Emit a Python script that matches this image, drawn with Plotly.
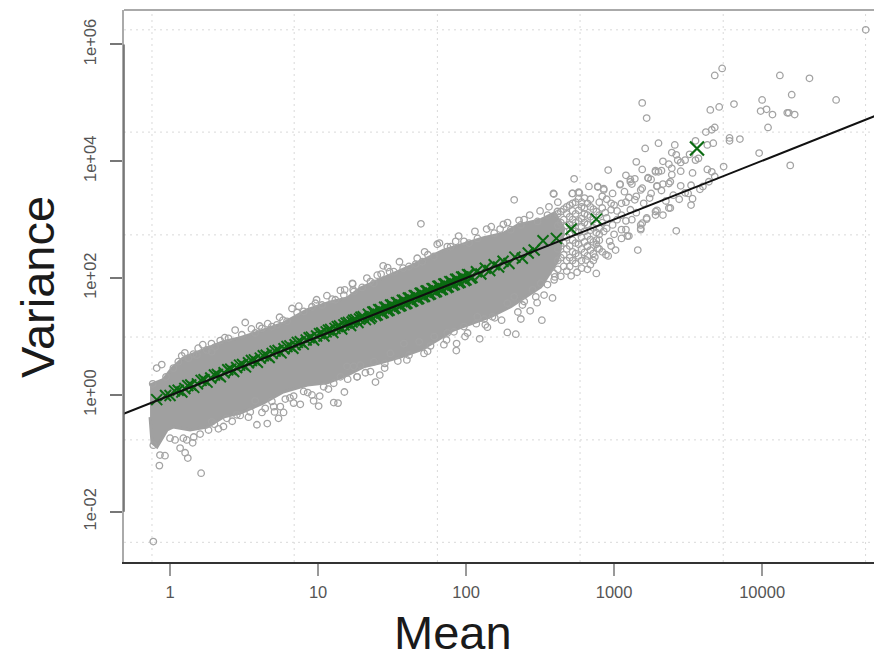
import plotly.graph_objects as go

# Dense body of the cloud: outline (log10 mean, log10 variance)
body_log_mean = [-0.135,-0.047,0.014,0.088,0.223,0.359,0.474,0.575,0.765,0.928,1.083,1.198,1.286,1.442,1.645,1.848,2.119,2.255,2.349,2.505,2.60,2.66,2.62,
                 2.505,2.39,2.302,2.167,2.051,1.916,1.808,1.693,1.557,1.422,1.307,1.198,1.063,0.928,0.765,0.63,0.474,0.359,0.25,0.135,0.02,-0.02,-0.088,-0.122,-0.135]
body_log_var = [0.17,0.26,0.46,0.63,0.77,0.91,0.98,1.06,1.23,1.46,1.59,1.66,1.83,2.00,2.23,2.48,2.69,2.77,2.91,3.00,3.12,2.85,2.30,
                1.85,1.66,1.51,1.34,1.23,1.11,0.94,0.77,0.65,0.55,0.48,0.34,0.21,0.17,0.05,-0.14,-0.31,-0.38,-0.55,-0.60,-0.55,-0.60,-0.89,-0.82,-0.38]

# Individually visible genes (log10 mean, log10 variance)
genes = [
(4.70,6.25),(3.73,5.59),(3.68,5.47),(4.12,5.47),(4.32,5.42),(4.20,5.14),(4.50,5.05),(4.00,5.05),(3.81,4.98),(3.71,4.93),
(3.65,4.88),(3.19,5.00),(3.22,4.74),(3.99,4.86),(4.03,4.89),(4.07,4.80),(4.17,4.83),(4.18,4.83),(4.22,4.80),(4.04,4.58),
(3.68,4.58),(3.66,4.54),(3.62,4.50),(3.78,4.40),(3.78,4.35),(3.85,4.38),(3.67,4.31),(3.63,4.28),(3.55,4.35),(3.30,4.31),
(3.41,4.28),(3.21,4.22),(3.98,4.14),(3.74,3.91),(4.19,3.93),(3.39,4.15),(3.42,4.11),(3.51,4.12),(3.57,4.05),(3.55,4.02),
(3.48,4.02),(3.43,4.02),(3.45,3.98),(3.15,3.99),(2.96,3.85),(3.19,3.86),(3.33,4.00),(3.37,3.95),(3.39,3.88),(3.28,3.84),
(3.30,3.82),(3.32,3.84),(3.45,3.83),(3.53,3.80),(3.63,3.86),(3.66,3.82),(3.68,3.74),(3.64,3.65),(3.08,3.76),(3.11,3.69),
(3.14,3.70),(3.23,3.72),(3.25,3.69),(3.39,3.77),(3.38,3.65),(3.29,3.58),(3.33,3.61),(3.45,3.58),(3.52,3.59),(3.60,3.57),
(3.58,3.52),(2.83,3.57),(2.89,3.56),(2.93,3.53),(3.04,3.61),(3.12,3.61),(3.19,3.54),(3.48,3.46),(3.53,3.36),(3.52,3.25),
(3.38,3.20),(3.29,3.16),(3.28,3.08),(3.33,3.08),(3.22,3.01),(3.19,2.94),(3.18,2.85),(3.42,2.81),(3.08,2.83),(3.10,2.72),
(2.73,3.70),(2.59,3.45),(2.76,3.47),(2.72,3.45),(2.62,3.30),(3.16,2.48),(3.01,2.48),(2.96,2.38),(2.87,2.36),(2.88,2.08),
(2.71,2.04),(2.60,2.02),(3.09,2.72),(3.05,2.83),(3.18,2.83),(3.22,3.03),(3.37,3.20),(2.80,3.37),(2.89,3.57),(2.93,3.51),
(2.92,3.40),(3.04,3.60),(2.99,3.45),(3.07,3.48),(3.11,3.65),(3.18,3.51),(3.23,3.71),(3.28,3.82),(3.29,3.57),(3.37,3.62),
(3.24,3.37),(3.14,3.34),(3.05,3.28),(2.98,3.17),(3.05,3.08),(3.11,3.17),(3.20,3.28),(2.95,3.03),(2.99,2.91),(2.93,2.80),
(2.97,2.63),(2.88,2.65),(2.89,2.51),(2.82,2.54),(2.81,2.31),(2.78,2.17),(2.84,2.23),(3.28,3.14),(3.18,2.91),
(-0.117,0.19),(-0.09,0.46),(-0.056,0.52),(-0.027,0.31),(0.079,0.67),(0.158,0.70),(0.221,0.86),(0.248,0.77),(0.339,0.93),(0.44,1.11),
(0.508,1.24),(0.605,1.18),(0.688,1.17),(0.763,1.28),(0.824,1.48),(0.858,1.41),(0.959,1.51),(0.982,1.57),(1.095,1.64),(1.151,1.79),
(1.234,1.90),(1.241,1.77),(0.587,-0.51),(0.657,-0.49),(0.733,-0.40),(0.767,-0.30),(0.706,-0.29),(0.835,-0.14),(0.88,-0.16),(0.97,-0.10),
(1.004,-0.19),(1.106,-0.13),(1.135,-0.14),(1.178,0.05),(1.011,-0.02),(0.835,-0.02),(0.779,-0.07),(0.643,-0.23),(0.621,-0.30),(0.474,-0.35),
(0.361,-0.54),(0.327,-0.58),(0.26,-0.60),(0.203,-0.67),(0.153,-0.82),(0.113,-0.77),(0.09,-0.74),(0.034,-0.77),(0.0,-0.74),(-0.034,-1.04),
(-0.068,-1.03),(-0.072,-1.21),(0.21,-1.34),(0.068,-0.91),(0.102,-0.99),(0.12,-1.08),(-0.113,-0.86),(-0.113,-2.51),
(1.695,2.93),(1.805,2.58),(1.742,2.40),(1.67,2.34),(1.66,2.24),(1.44,2.21),(1.426,2.07),(1.483,2.11),(1.575,2.17),(1.232,1.91),
(1.237,1.80),(1.377,1.91),(1.873,2.54),(1.93,2.63),(2.139,2.84),(2.23,2.84),(2.252,2.92),(2.325,3.34),(2.02,2.60),(2.358,2.99),
(2.392,3.00),(2.56,3.22),(2.617,3.14),(1.388,0.22),(1.264,0.31),(1.354,0.40),(1.417,0.34),(1.451,0.54),(1.539,0.58),(1.614,0.68),
(1.716,0.71),(1.76,0.84),(1.934,0.76),(1.936,0.88),(1.868,0.94),(1.918,1.08),(1.993,1.00),(2.092,0.96),(2.279,1.07),(2.336,1.04),
(2.144,1.16),(2.069,1.22),(2.122,1.30),(2.194,1.32),(2.37,1.30),(2.512,1.28),(2.433,1.44),(2.381,1.54),(2.471,1.68),(2.527,1.71),
(2.584,1.66),(2.595,1.97),(2.55,1.89),(2.593,3.44),(2.717,3.45),(2.765,3.46),(2.945,2.40),(2.64,2.03),
# edge of the cloud
(0.282,-0.46),(0.384,-0.40),(0.451,-0.34),(0.542,-0.29),(0.575,-0.10),(0.688,-0.11),(0.745,-0.20),(1.241,0.49),(1.151,0.31),(1.106,0.20),
(1.038,0.14),(0.959,0.0),(0.903,0.06),(1.264,0.31),(0.023,0.46),(0.056,0.57),(0.124,0.63),(0.181,0.68),(0.282,0.74),(0.305,0.82),
(0.395,0.97),(0.485,1.03),(0.575,1.06),(0.621,1.14),(0.722,1.20),(0.79,1.26),(0.903,1.43),(1.027,1.54),(1.174,1.71),(1.117,1.63),
(1.298,1.84),(1.354,1.94),(1.40,2.05),(1.512,2.11),(1.614,2.20),(1.704,2.28),(1.783,2.37),(1.896,2.54),(1.986,2.63),(2.077,2.68),
(2.19,2.77),(2.302,2.83),(2.37,2.91),(2.483,2.97),(2.55,3.08),(1.196,0.49),(1.286,0.51),(1.377,0.57),(1.489,0.71),(1.58,0.88),
(1.683,0.91),(1.785,1.00),(1.873,1.06),(1.985,1.17),(2.076,1.34),(2.178,1.34),(2.279,1.57),(2.325,1.68),(2.393,1.60),(2.449,1.80),
(2.505,1.91),(2.595,2.08),
(0.10,0.72),(0.19,0.80),(0.28,0.88),(0.37,0.98),(0.55,1.13),(0.66,1.22),(0.74,1.33),(0.87,1.52),(0.99,1.63),(1.06,1.70),
(1.18,1.80),(1.33,2.00),(1.47,2.18),(1.55,2.28),(1.72,2.45),(1.82,2.60),(1.95,2.72),(2.06,2.80),(2.17,2.88),(2.28,2.95),
(2.43,3.08),(2.50,3.15),(0.16,-0.72),(0.30,-0.50),(0.42,-0.45),(0.53,-0.38),(0.70,-0.20),(0.81,-0.05),(0.93,0.04),(1.07,0.10),
(1.20,0.27),(1.32,0.38),(1.45,0.46),(1.60,0.60),(1.74,0.75),(1.85,0.86),(2.01,1.06),(2.13,1.20),(2.24,1.28),(2.35,1.42),(2.48,1.58),
# loose tail past the dense body
(2.78,3.30),(2.84,3.35),(2.90,3.30),(2.95,3.35),(2.98,3.28),(2.92,3.20),(3.00,3.25),(3.02,3.15),(2.94,3.12),(3.08,3.30),
(3.10,3.38),(3.15,3.40),(3.02,3.00),(3.08,2.98),(2.92,2.95),(3.12,3.00),(2.95,2.85),(2.90,2.75),(3.00,2.75),(3.05,2.68),
(2.98,2.55),(2.92,2.45),(2.86,2.30),(2.82,2.15),(2.75,2.10),(2.68,2.12),(3.15,3.12),(3.25,3.45),(3.32,3.50),(3.40,3.42),
(3.35,3.32),(3.44,3.35),(3.50,3.45),
(2.62,3.10),(2.62,2.90),(2.62,2.70),(2.62,2.50),(2.62,2.30),(2.62,2.15),(2.66,3.18),(2.66,3.00),(2.66,2.80),(2.66,2.60),
(2.66,2.40),(2.66,2.20),(2.70,3.25),(2.70,3.05),(2.70,2.92),(2.70,2.75),(2.70,2.55),(2.70,2.35),(2.70,2.20),(2.74,3.30),
(2.74,3.10),(2.74,2.95),(2.74,2.80),(2.74,2.60),(2.74,2.42),(2.74,2.25),(2.78,3.22),(2.78,3.02),(2.78,2.88),(2.78,2.70),
(2.78,2.50),(2.78,2.30),(2.82,3.28),(2.82,3.08),(2.82,2.92),(2.82,2.72),(2.82,2.55),(2.82,2.38),(2.86,3.18),(2.86,3.00),
(2.86,2.86),(2.86,2.62),(2.86,2.42),(2.90,3.08),(2.90,2.85),(2.90,2.65),(2.90,2.50),
(2.64,3.14),(2.64,2.95),(2.64,2.75),(2.64,2.55),(2.64,2.35),(2.68,3.22),(2.68,3.10),(2.68,2.90),(2.68,2.70),(2.68,2.50),
(2.68,2.30),(2.72,3.28),(2.72,3.15),(2.72,3.00),(2.72,2.85),(2.72,2.65),(2.72,2.45),(2.72,2.30),(2.76,3.36),(2.76,3.16),
(2.76,2.98),(2.76,2.78),(2.76,2.58),(2.76,2.38),(2.80,3.20),(2.80,3.10),(2.80,2.95),(2.80,2.80),(2.80,2.62),(2.80,2.44),
(2.84,3.22),(2.84,3.05),(2.84,2.82),(2.84,2.66),(2.84,2.48),(2.88,3.14),(2.88,2.94),(2.88,2.78),(2.88,2.58),
]

# Binned means (green crosses), log10 mean and log10 variance
bin_log_mean = [-0.09,-0.03,0.03,0.08,0.12,0.16,0.21,0.25,0.30,0.34,0.39,0.43,0.47,0.51,0.55,0.59,0.63,0.67,0.71,0.75,0.79,0.83,0.86,0.90,0.94,0.97,1.01,1.04,1.07,1.10,
                1.13,1.16,1.19,1.22,1.24,1.27,1.29,1.32,1.34,1.36,1.38,1.40,1.42,1.44,1.46,1.48,1.50,1.52,1.54,1.56,1.58,1.60,1.62,1.64,1.66,1.68,1.70,1.72,1.74,1.76,
                1.78,1.80,1.82,1.84,1.86,1.88,1.90,1.92,1.94,1.96,1.98,2.00,2.02,2.04,2.07,2.10,2.13,2.16,2.19,2.22,2.25,2.29,2.33,2.38,2.42,2.46,2.52,2.61,2.71,2.88,
                1.35,1.37,1.39,1.41,1.43,1.45,1.47,1.49,1.51,1.53,1.55,1.57,1.59,1.61,1.63,1.65,1.67,1.69,1.71,1.73,1.75,1.77,1.79,1.81,1.83,1.85,1.87,1.89,1.91,1.93,1.95,1.97,1.99,2.01,2.03,
                0.0,0.055,0.10,0.14,0.185,0.23,0.275,0.32,0.365,0.41,0.45,0.49,0.53,0.57,0.61,0.65,0.69,0.73,0.77,0.81,0.845,0.88,0.92,0.955,0.99,1.025,1.055,1.085,1.115,1.145,1.175,1.205,1.23,1.255,1.28,1.305]
bin_log_var = [-0.08,-0.01,0.07,0.05,0.16,0.13,0.25,0.22,0.34,0.31,0.43,0.40,0.51,0.48,0.59,0.56,0.67,0.64,0.75,0.72,0.83,0.80,0.90,0.87,0.98,0.94,1.05,1.01,1.11,1.07,
               1.17,1.13,1.23,1.19,1.28,1.24,1.33,1.29,1.38,1.34,1.42,1.37,1.46,1.41,1.50,1.45,1.54,1.49,1.58,1.53,1.62,1.57,1.66,1.61,1.70,1.65,1.74,1.69,1.78,1.73,
               1.82,1.77,1.86,1.81,1.90,1.85,1.94,1.89,1.98,1.93,2.02,1.97,2.06,2.01,2.11,2.07,2.17,2.13,2.23,2.19,2.29,2.25,2.36,2.34,2.43,2.48,2.64,2.68,2.84,3.01,
               1.31,1.42,1.36,1.46,1.40,1.50,1.44,1.54,1.48,1.58,1.52,1.62,1.56,1.66,1.60,1.70,1.64,1.74,1.68,1.78,1.72,1.82,1.76,1.86,1.80,1.90,1.84,1.94,1.88,1.98,1.92,2.02,1.96,2.06,2.00,
               -0.01,0.08,0.11,0.17,0.19,0.26,0.29,0.35,0.38,0.44,0.47,0.52,0.55,0.60,0.63,0.68,0.71,0.76,0.79,0.84,0.86,0.91,0.94,0.99,1.01,1.06,1.08,1.12,1.14,1.18,1.20,1.24,1.25,1.29,1.30,1.34]
top_bin_log_mean = [3.56]
top_bin_log_var = [4.22]

# Fitted line end points
fit_mean = [0.45, 70000]
fit_var = [0.44, 72000]

# Grid positions (R's grid() does not sit on the ticks)
grid_mean = [0.755, 6.9, 64, 589, 5460, 50000]
grid_var = [1780000, 31600, 550, 9.8, 0.17, 0.003]

x_ticks = [1, 10, 100, 1000, 10000]
x_tick_labels = ["1", "10", "100", "1000", "10000"]
y_ticks = [0.01, 1, 100, 10000, 1000000]
y_tick_labels = ["1e-02", "1e+00", "1e+02", "1e+04", "1e+06"]

X_RANGE = [-0.311, 4.81]
Y_RANGE = [-2.86, 6.59]
GRAY = "#a0a0a0"
GREEN = "#0b6b12"

fig = go.Figure()


def grid_trace(xs, ys):
    fig.add_trace(go.Scatter(x=xs, y=ys, mode="lines", hoverinfo="skip", showlegend=False,
                             line=dict(color="#d9d9d9", width=1, dash="2px,4px")))


vx, vy = [], []
for g in grid_mean:
    vx += [g, g, None]
    vy += [10 ** Y_RANGE[0], 10 ** Y_RANGE[1], None]
grid_trace(vx, vy)
hx, hy = [], []
for g in grid_var:
    hx += [10 ** X_RANGE[0], 10 ** X_RANGE[1], None]
    hy += [g, g, None]
grid_trace(hx, hy)

fig.add_trace(go.Scatter(x=[10 ** v for v in body_log_mean], y=[10 ** v for v in body_log_var],
                         mode="lines", fill="toself", fillcolor=GRAY, showlegend=False,
                         line=dict(color=GRAY, width=3), hoverinfo="skip"))
fig.add_trace(go.Scatter(x=[10 ** g[0] for g in genes], y=[10 ** g[1] for g in genes],
                         mode="markers", showlegend=False,
                         marker=dict(symbol="circle-open", size=6.5, color="#a3a3a3", line=dict(width=1.3, color="#a3a3a3"))))
fig.add_trace(go.Scatter(x=[10 ** v for v in bin_log_mean], y=[10 ** v for v in bin_log_var],
                         mode="markers", showlegend=False,
                         marker=dict(symbol="x-thin-open", size=11, color=GREEN, line=dict(width=2, color=GREEN))))
fig.add_trace(go.Scatter(x=[10 ** v for v in top_bin_log_mean], y=[10 ** v for v in top_bin_log_var],
                         mode="markers", showlegend=False,
                         marker=dict(symbol="x-thin-open", size=14, color=GREEN, line=dict(width=2.2, color=GREEN))))
fig.add_trace(go.Scatter(x=fit_mean, y=fit_var, mode="lines", showlegend=False,
                         line=dict(color="#111111", width=2)))

fig.update_layout(
    width=874, height=653, paper_bgcolor="white", plot_bgcolor="white",
    margin=dict(l=116, r=0, t=2, b=99), showlegend=False,
    font=dict(family="Liberation Sans, Arial, sans-serif", color="#555555", size=11),
    xaxis=dict(type="log", range=X_RANGE, tickmode="array", tickvals=x_ticks, ticktext=x_tick_labels,
               showgrid=False, zeroline=False, showline=True, linecolor="#333333", linewidth=1.5,
               ticks="outside", ticklen=12, tickcolor="#999999", tickwidth=1.5, ticklabelstandoff=2,
               tickfont=dict(size=16.5, color="#555555")),
    yaxis=dict(type="log", range=Y_RANGE, tickmode="array", tickvals=y_ticks, ticktext=y_tick_labels,
               showgrid=False, zeroline=False, showline=True, linecolor="#aaaaaa", linewidth=1.5,
               ticks="outside", ticklen=12, tickcolor="#777777", tickwidth=1.5, tickangle=-90, ticklabelstandoff=8,
               tickfont=dict(size=16.5, color="#555555")),
    shapes=[
        dict(type="line", xref="paper", yref="paper", x0=0, x1=1, y0=1, y1=1, line=dict(color="#aaaaaa", width=2)),
        dict(type="line", xref="paper", yref="y", x0=0, x1=0, y0=0.01, y1=1000000, line=dict(color="#666666", width=1.5)),
    ],
    annotations=[
        dict(text="Mean", xref="paper", yref="paper", x=0.434, y=-0.127, showarrow=False,
             font=dict(family="Liberation Sans", size=47, color="#1a1a1a"), xanchor="center", yanchor="middle"),
        dict(text="Variance", xref="paper", yref="paper", x=-0.115, y=0.498, showarrow=False, textangle=-90,
             font=dict(family="Liberation Sans", size=47, color="#1a1a1a"), xanchor="center", yanchor="middle"),
    ],
)
fig.write_html("out.html")
